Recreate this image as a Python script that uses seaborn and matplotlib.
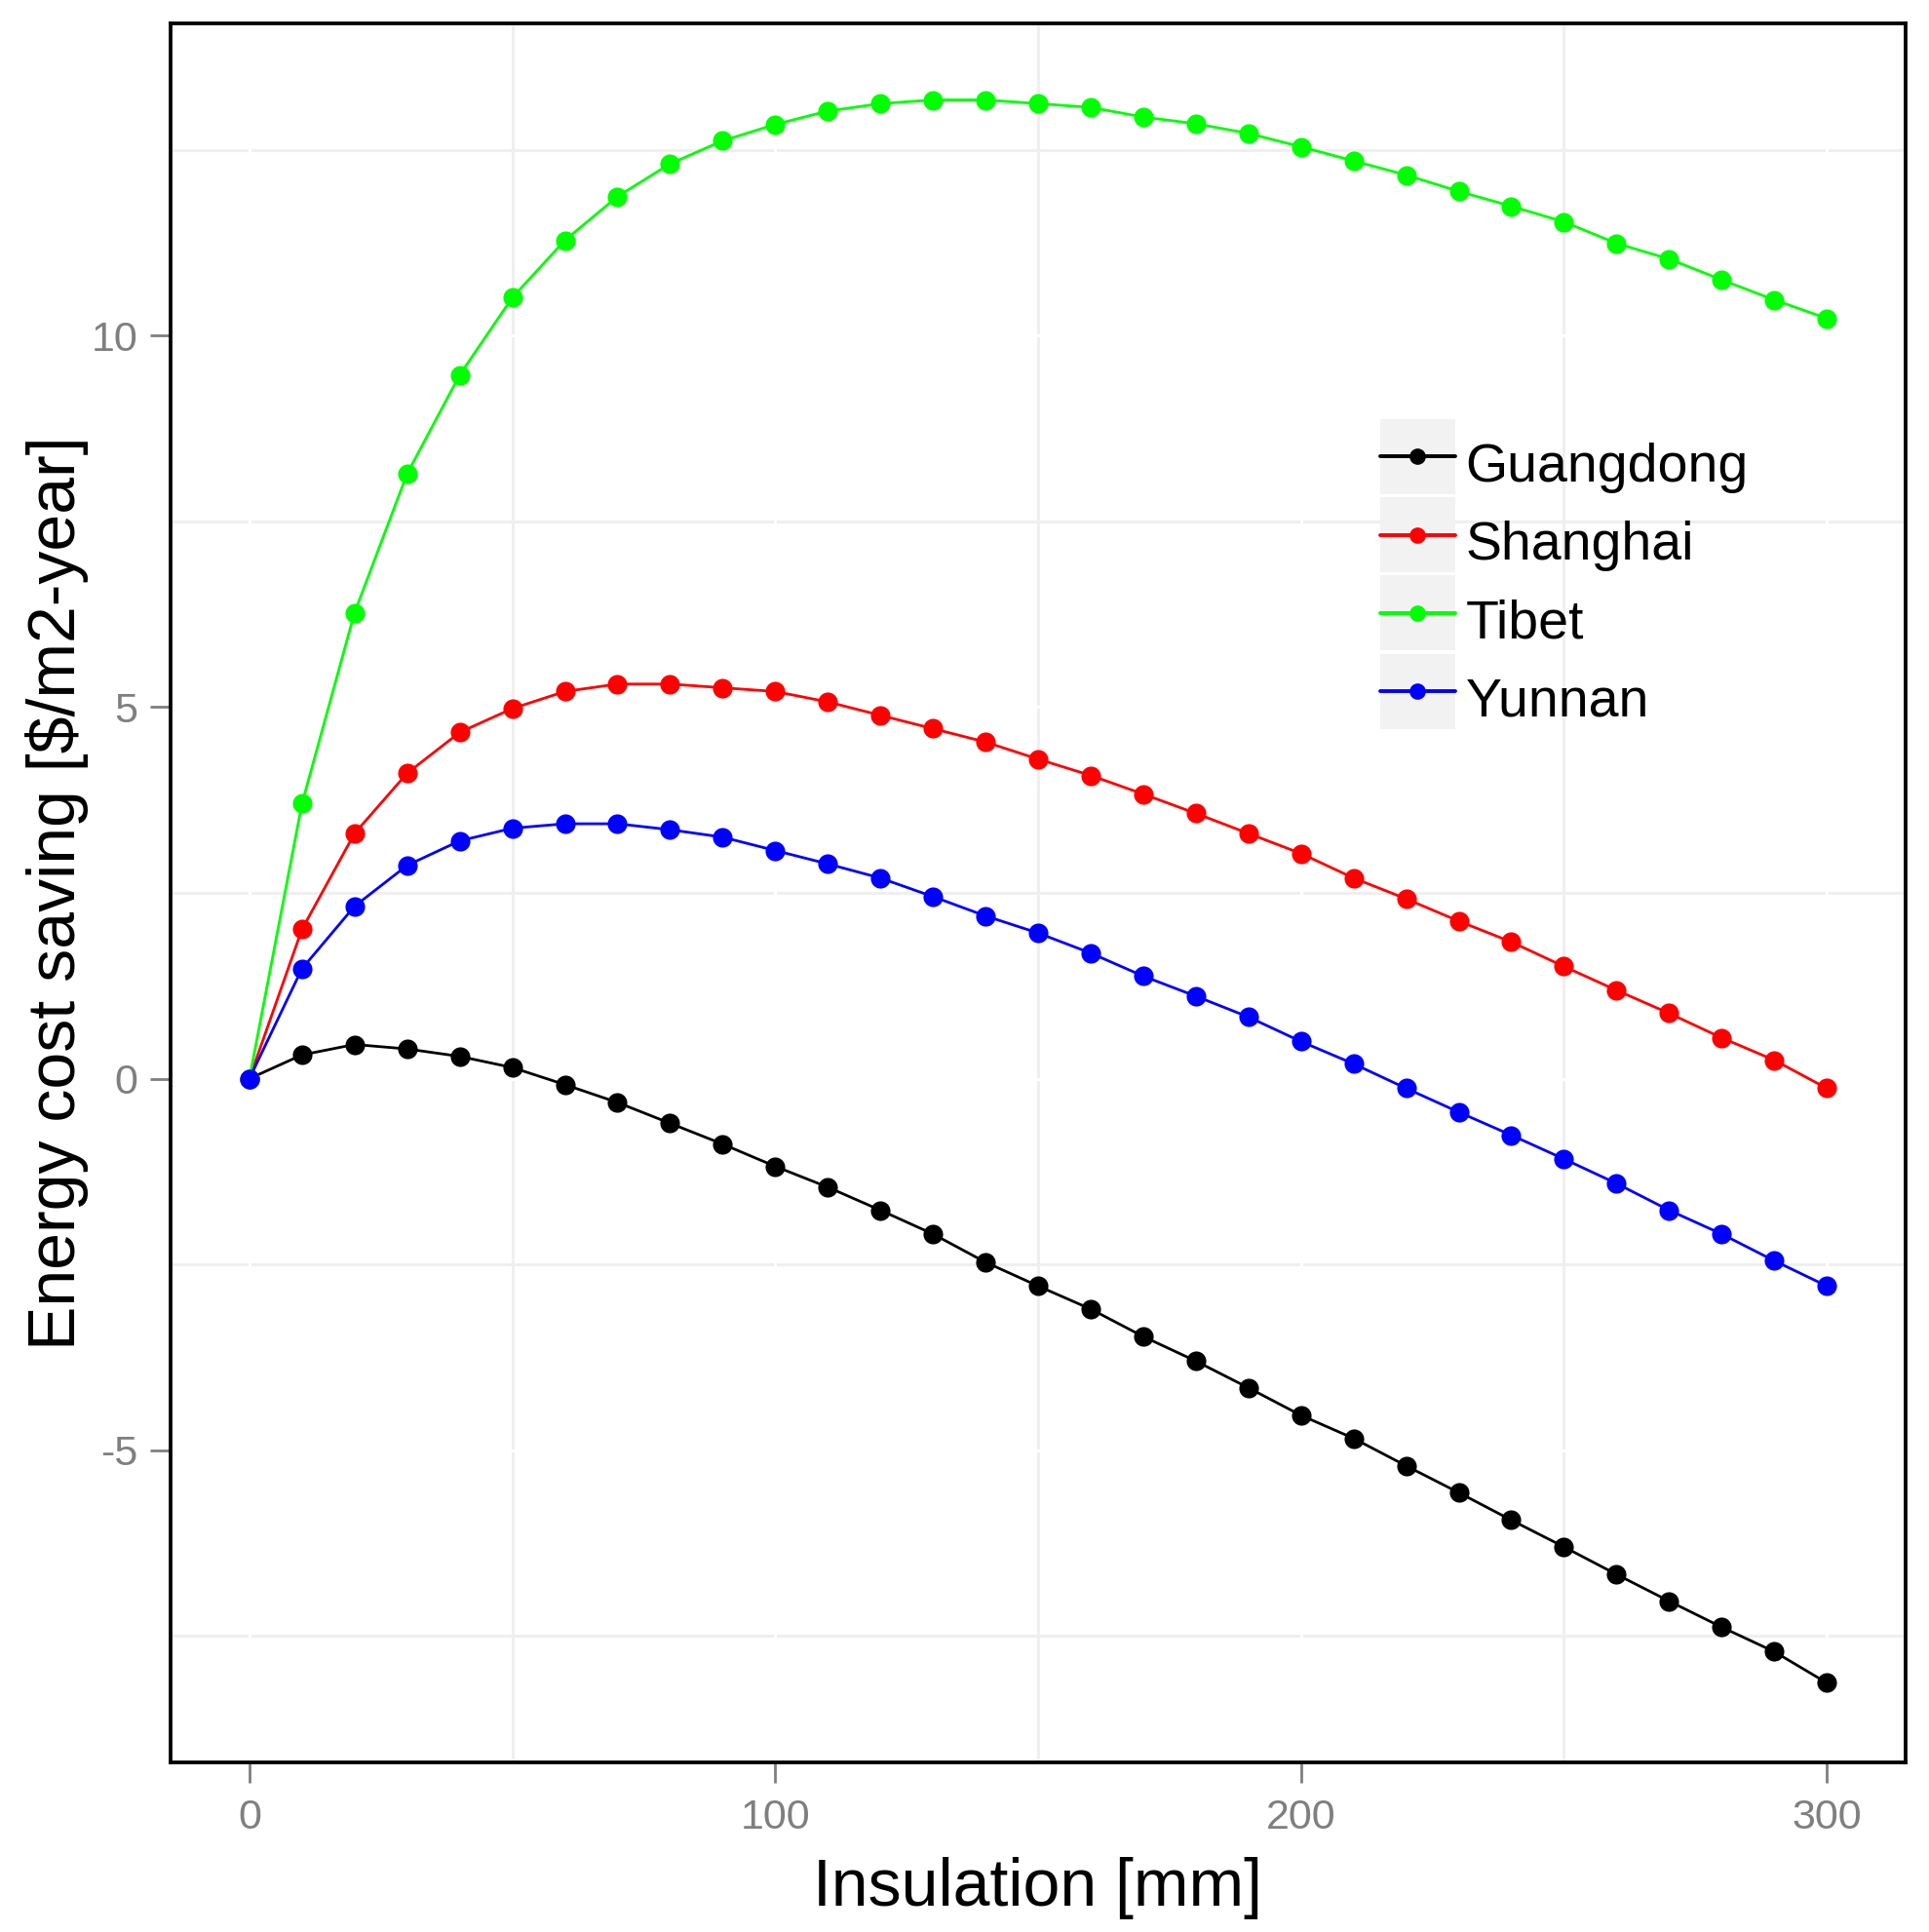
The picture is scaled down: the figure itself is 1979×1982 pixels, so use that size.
import numpy as np
import pandas as pd
import matplotlib
matplotlib.use("Agg")
import matplotlib.pyplot as plt
import seaborn as sns
from matplotlib.lines import Line2D
from matplotlib.patches import Rectangle
from matplotlib.legend_handler import HandlerLine2D
from matplotlib.ticker import MultipleLocator

# ---------------- data ----------------
insulation = [0, 10, 20, 30, 40, 50, 60, 70, 80, 90, 100, 110, 120, 130, 140, 150,
              160, 170, 180, 190, 200, 210, 220, 230, 240, 250, 260, 270, 280, 290, 300]

guangdong = [0.00, 0.32, 0.46, 0.40, 0.30, 0.15, -0.08, -0.32, -0.60, -0.88, -1.18,
             -1.46, -1.77, -2.09, -2.47, -2.79, -3.10, -3.47, -3.80, -4.16, -4.53,
             -4.84, -5.21, -5.57, -5.94, -6.30, -6.67, -7.03, -7.38, -7.71, -8.13]

shanghai = [0.00, 2.01, 3.30, 4.11, 4.66, 4.98, 5.21, 5.31, 5.31, 5.26, 5.21,
            5.07, 4.89, 4.71, 4.53, 4.30, 4.08, 3.83, 3.57, 3.30, 3.03,
            2.70, 2.42, 2.12, 1.84, 1.51, 1.19, 0.88, 0.55, 0.25, -0.13]

tibet = [0.00, 3.70, 6.27, 8.14, 9.47, 10.51, 11.28, 11.87, 12.31, 12.62, 12.84,
         13.02, 13.12, 13.17, 13.17, 13.12, 13.07, 12.94, 12.85, 12.72, 12.54,
         12.35, 12.16, 11.94, 11.74, 11.53, 11.24, 11.03, 10.75, 10.48, 10.23]

yunnan = [0.00, 1.48, 2.32, 2.87, 3.20, 3.37, 3.43, 3.43, 3.35, 3.25, 3.07,
          2.89, 2.70, 2.45, 2.19, 1.96, 1.69, 1.38, 1.11, 0.83, 0.50,
          0.20, -0.13, -0.45, -0.76, -1.08, -1.41, -1.77, -2.09, -2.45, -2.79]

regions = ["Guangdong", "Shanghai", "Tibet", "Yunnan"]
series = [guangdong, shanghai, tibet, yunnan]
colors = ["#000000", "#FF0000", "#00FF00", "#0000FF"]

x_ticks = [0, 100, 200, 300]
y_ticks = [-5, 0, 5, 10]
x_label = "Insulation [mm]"
y_label = "Energy cost saving [$/m2-year]"

df = pd.DataFrame({
    "Insulation": np.tile(insulation, len(regions)),
    "Saving": np.concatenate(series),
    "Region": np.repeat(regions, len(insulation)),
})

# ---------------- style ----------------
sns.set_theme(style="white")
plt.rcParams["font.family"] = ["Liberation Sans", "DejaVu Sans"]
plt.rcParams["axes.unicode_minus"] = False

fig = plt.figure(figsize=(19.79, 19.82), dpi=100)
ax = fig.add_axes([0.0884, 0.0878, 0.8995, 0.9001])

palette = dict(zip(regions, colors))
sns.lineplot(data=df, x="Insulation", y="Saving", hue="Region", hue_order=regions,
             palette=palette, marker="o", markersize=14.5, markeredgewidth=0,
             linewidth=2.0, ax=ax, legend=False, zorder=3)

ax.set_xlim(-15, 315)
ax.set_ylim(-9.2, 14.2)
ax.set_xticks(x_ticks)
ax.set_yticks(y_ticks)
ax.xaxis.set_minor_locator(MultipleLocator(50))
ax.yaxis.set_minor_locator(MultipleLocator(2.5))

ax.set_axisbelow(True)
ax.grid(False)
ax.grid(which="minor", color="#EFEFEF", linewidth=2.2)
for t in ax.get_xticks():
    ax.axvline(t, color="white", linewidth=2.2, zorder=0.6)
for t in ax.get_yticks():
    ax.axhline(t, color="white", linewidth=2.2, zorder=0.6)

for sp in ax.spines.values():
    sp.set_visible(True)
    sp.set_color("black")
    sp.set_linewidth(2.7)

ax.tick_params(axis="both", which="major", direction="out", length=15, width=2,
               color="#7F7F7F", labelcolor="#7F7F7F", labelsize=31,
               bottom=True, left=True)
ax.tick_params(axis="x", which="major", pad=12)
ax.tick_params(axis="y", which="major", pad=9)
ax.tick_params(which="minor", length=0)

ax.set_xlabel(x_label, fontsize=49, color="black", labelpad=14)
ax.set_ylabel(y_label, fontsize=49, color="black", labelpad=2)


class KeyHandler(HandlerLine2D):
    def create_artists(self, legend, orig_handle, xdescent, ydescent,
                       width, height, fontsize, trans):
        arts = super().create_artists(legend, orig_handle, xdescent, ydescent,
                                      width, height, fontsize, trans)
        yc = (height - ydescent) / 2
        bg = Rectangle((-xdescent, yc - width / 2), width, width,
                       facecolor="#F2F2F2", edgecolor="none", transform=trans)
        return [bg] + arts


handles = [Line2D([], [], color=c, marker="o", markersize=12, markeredgewidth=0,
                  linewidth=2.8) for c in colors]
leg = ax.legend(handles, regions, handler_map={Line2D: KeyHandler(numpoints=1)},
                loc="upper left", bbox_to_anchor=(0.697, 0.765), frameon=False,
                fontsize=40, handlelength=1.385, handleheight=1.385,
                labelspacing=0.3, handletextpad=0.2, borderpad=0, borderaxespad=0)
for txt in leg.get_texts():
    txt.set_color("black")

fig.savefig("out.png", dpi=100, facecolor="white")
